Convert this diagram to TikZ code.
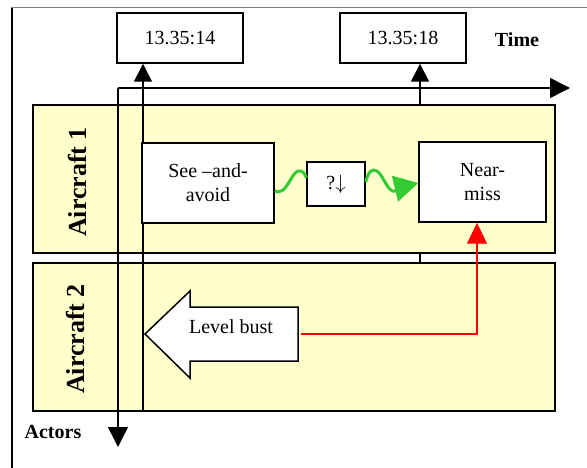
\documentclass[tikz,border=0pt]{standalone}
\usepackage{fontspec}
\setmainfont{Liberation Serif}
\usetikzlibrary{arrows.meta}

\definecolor{laneyellow}{HTML}{FFFFCC}
\definecolor{snakegreen}{HTML}{33CC33}

\begin{document}
\begin{tikzpicture}[x=1pt,y=-1pt,
		box/.style={draw,line width=1.5pt,fill=white,inner sep=0pt,align=center,font=\fontsize{20}{24}\selectfont},
		lane/.style={draw,line width=1.8pt,fill=laneyellow},
		lanelabel/.style={rotate=90,font=\fontsize{26}{30}\selectfont\bfseries},
		axis/.style={line width=1.5pt,-{Triangle[length=20pt,width=20pt]}},
		upline/.style={line width=1.5pt,-{Triangle[length=18pt,width=18pt]}},
		wavy/.style={snakegreen,line width=3pt},
	]
	\useasboundingbox (0,0) rectangle (587,468);

	% frame
	\draw[gray,line width=1pt] (11,8) -- (587,8);
	\draw[line width=1.3pt] (12,8) -- (12,468);

	% time stamps
	\node[box,minimum width=126pt,minimum height=50pt] (t14) at (180,38) {13.35:14};
	\node[box,minimum width=126pt,minimum height=50pt] (t18) at (403,38) {13.35:18};
	\node[font=\fontsize{20}{24}\selectfont\bfseries] (time) at (517,40) {Time};

	% second time line, hidden behind the lanes
	\coordinate (t18foot) at (420,262);
	\draw[upline] (t18foot) -- (t18foot |- t18.south);

	% lanes
	\draw[lane] (33,105) rectangle (555,253);
	\draw[lane] (33,263) rectangle (555,411);
	\node[lanelabel] (ac1) at (77,182) {Aircraft 1};
	\node[lanelabel] (ac2) at (75,339) {Aircraft 2};

	% axes
	\coordinate (origin) at (118,88);
	\coordinate (timeend) at (570,88);
	\coordinate (actorsend) at (118,447);
	\draw[axis] (origin) -- (timeend);
	\draw[axis] (origin) -- (actorsend);
	\node[font=\fontsize{20}{24}\selectfont\bfseries] (actors) at (53,432) {Actors};

	% first time line
	\coordinate (t14foot) at (143,411);
	\draw[upline] (t14foot) -- (t14foot |- t14.south);

	% events
	\node[box,minimum width=132pt,minimum height=80pt] (see) at (208,183) {See --and-\\avoid};
	\node[box,minimum width=58pt,minimum height=44pt] (q) at (336,184) {?$\downarrow$};
	\node[box,minimum width=127pt,minimum height=80pt] (near) at (482.5,182) {Near-\\miss};

	\draw[wavy] ([yshift=-8pt]see.east) .. controls (288,197) and (291,168) .. (301,171)
		.. controls (304,172) and (306,176) .. ([yshift=6pt]q.west);
	\draw[wavy,-{Triangle[length=24pt,width=26pt]}] ([yshift=2pt]q.east) .. controls (368,172) and (372,168) .. (377,171)
		.. controls (384,176) and (388,194) .. (396,191)
		.. controls (402,188) and (410,185) .. ([yshift=-1pt]near.west);

	% level bust arrow
	\draw[line width=1.5pt,fill=white] (145,334) -- (190,291) -- (190,307) -- (298,307)
		-- (298,361) -- (190,361) -- (190,378) -- cycle;
	\node[font=\fontsize{20}{24}\selectfont] (bust) at (231,327) {Level bust};
	\coordinate (busttail) at (301,334);
	\coordinate (bend) at (477,334);
	\draw[red,line width=1.3pt,-{Triangle[length=21pt,width=20pt]}] (busttail) -- (bend) -- (bend |- near.south);
\end{tikzpicture}
\end{document}
